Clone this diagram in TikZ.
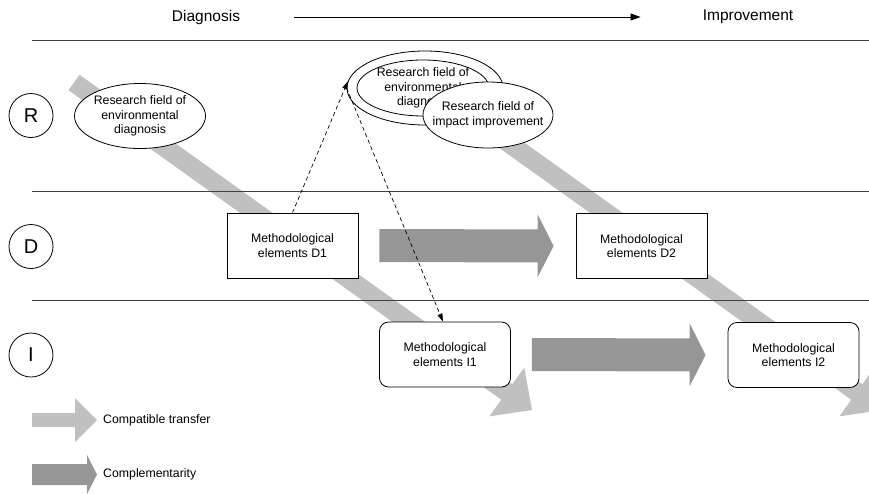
\documentclass[tikz,border=0pt]{standalone}
\usepackage{fontspec}
\setmainfont{Liberation Sans}
\usetikzlibrary{arrows.meta,calc,positioning,shapes.geometric}
\definecolor{lightBand}{HTML}{C0C0C0}
\definecolor{darkBand}{HTML}{969696}
\definecolor{ruleCol}{HTML}{404040}
\newcommand{\bodyfont}{\fontsize{12.3}{14.6}\selectfont}
\newcommand{\headfont}{\fontsize{15.5}{18}\selectfont}
% wide block arrow: start, tip, half shaft, half head, head length, colour
\newcommand{\fatarrow}[6]{%
  \coordinate (fa-b) at ($(#2)!#5!(#1)$);
  \fill[#6] ($(#1)!#3!90:(#2)$) -- ($(fa-b)!#3!90:(#2)$) -- ($(fa-b)!#4!90:(#2)$) -- (#2)
    -- ($(fa-b)!#4!-90:(#2)$) -- ($(fa-b)!#3!-90:(#2)$) -- ($(#1)!#3!-90:(#2)$) -- cycle;}
\tikzset{
  headtxt/.style={font=\headfont, inner sep=0pt},
  timeline/.style={-{Triangle[length=10pt,width=7pt]}, line width=0.8pt},
  lanerule/.style={ruleCol, line width=1pt},
  lane/.style={draw, circle, line width=0.8pt, minimum size=44pt, inner sep=0pt,
        font=\fontsize{20}{24}\selectfont},
  field/.style n args={2}{draw, ellipse, fill=white, line width=0.8pt, inner xsep=-12pt,
        inner ysep=-4pt, align=center, font=\bodyfont, minimum width=#1, minimum height=#2},
  methbox/.style={draw, fill=white, line width=0.8pt, align=center, font=\bodyfont,
        minimum width=131pt, minimum height=65pt, inner sep=0pt},
  methround/.style={methbox, rounded corners=9pt},
  hint/.style={-{Triangle[length=8pt,width=5pt]}, dash pattern=on 4pt off 3pt, line width=0.7pt},
  legtxt/.style={font=\bodyfont, inner sep=0pt, anchor=west},
}

\begin{document}
\begin{tikzpicture}[x=1pt,y=-1pt]
  \useasboundingbox (0,0) rectangle (869,493);
  \clip (0,0) rectangle (869,493);
  % compatible transfer bands (behind everything)
  \coordinate (b1s) at (74,82.5);  \coordinate (b1t) at (532,410);
  \coordinate (b2s) at (424,82.5); \coordinate (b2t) at (882,410);
  \fatarrow{b1s}{b1t}{9.5pt}{30pt}{31pt}{lightBand}
  \fatarrow{b2s}{b2t}{9.5pt}{30pt}{31pt}{lightBand}
  % header
  \node[headtxt] (diag) at (206,17) {Diagnosis};
  \node[headtxt] (impr) at (748,17) {Improvement};
  \draw[timeline, shorten <=54pt, shorten >=62pt] (diag) -- (impr);
  % lanes
  \draw[lanerule] (32,40) -- (869,40);
  \draw[lanerule] (32,191) -- (869,191);
  \draw[lanerule] (32,300) -- (869,300);
  \node[lane] (laneR) at (31,115.5) {R};
  \node[lane] (laneD) at (31,246.5) {D};
  \node[lane] (laneI) at (31,355) {I};
  % research fields
  \node[field={131pt}{65pt}] (envL) at (140,116) {Research field of\\environmental\\diagnosis};
  \node[field={156pt}{74pt}] (outer) at (425,88) {};
  \node[field={132pt}{56pt}] (envC) at (423,88) {Research field of\\environmental\\diagnosis};
  \node[field={130pt}{66pt}] (imp) at (488,115) {Research field of\\impact improvement};
  % methodological elements
  \node[methbox] (D1) at (292.5,245.5) {Methodological\\elements D1};
  \node[methbox] (D2) at (641.5,246) {Methodological\\elements D2};
  \node[methround] (I1) at (445,354.5) {Methodological\\elements I1};
  \node[methround] (I2) at (793.5,355) {Methodological\\elements I2};
  % complementarity
  \coordinate (cDs) at ([xshift=21pt]D1.east); \coordinate (cDt) at ([xshift=-22pt]D2.west);
  \coordinate (cIs) at ([xshift=21pt]I1.east); \coordinate (cIt) at ([xshift=-22pt]I2.west);
  \fatarrow{cDs}{cDt}{16.5pt}{31.5pt}{16pt}{darkBand}
  \fatarrow{cIs}{cIt}{16.5pt}{31.5pt}{16pt}{darkBand}
  % links
  \draw[hint] (D1.north) -- (outer.175);
  \draw[hint] (outer.west) -- ([xshift=-2pt]I1.north);
  % legend
  \coordinate (lg1s) at (32,420);   \coordinate (lg1t) at (97,420);
  \coordinate (lg2s) at (32,474.5); \coordinate (lg2t) at (97,474.5);
  \fatarrow{lg1s}{lg1t}{7pt}{22pt}{22pt}{lightBand}
  \fatarrow{lg2s}{lg2t}{10.5pt}{19.5pt}{10pt}{darkBand}
  \node[legtxt, right=6pt of lg1t] (lgCompat) {Compatible transfer};
  \node[legtxt, right=6pt of lg2t] (lgCompl) {Complementarity};
\end{tikzpicture}
\end{document}
